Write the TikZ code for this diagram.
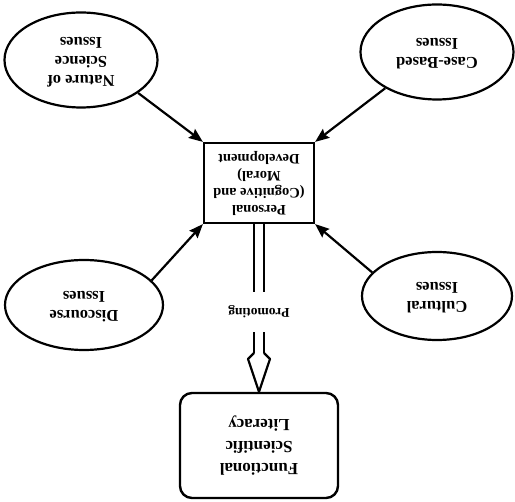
\documentclass[tikz,border=0pt]{standalone}
\usepackage{fontspec}
\setmainfont{Liberation Serif}
\usepackage{graphicx}
\usetikzlibrary{shapes.geometric}
\usetikzlibrary{arrows.meta}
\usetikzlibrary{calc}

% the whole scan is upside down, so every text is turned over
\newcommand{\upside}[1]{\rotatebox{180}{\begin{tabular}{@{}c@{}}#1\end{tabular}}}

\begin{document}
\begin{tikzpicture}[x=1pt,y=-1pt,
    issue/.style={draw,ellipse,line width=2.2pt,inner sep=0pt,
      font=\fontsize{16.5}{19}\selectfont\bfseries},
    devbox/.style={draw,rectangle,line width=2.2pt,inner sep=0pt,
      minimum width=110pt,minimum height=80pt,
      font=\fontsize{14.5}{17}\selectfont\bfseries},
    litbox/.style={draw,rectangle,rounded corners=12pt,line width=2.4pt,inner sep=0pt,
      minimum width=158pt,minimum height=105pt,
      font=\fontsize{17}{22}\selectfont\bfseries},
    link/.style={line width=2.2pt,-{Stealth[length=14pt,width=11pt,inset=2pt]}},
    promote/.style={double,double distance=7.5pt,line width=2.2pt}
  ]
  \useasboundingbox (0,0) rectangle (515,502);

  \node[issue,minimum width=153pt,minimum height=95pt] (nos) at (81,60) {\upside{Nature of\\Science\\Issues}};
  \node[issue,minimum width=153pt,minimum height=95pt] (cbi) at (437,52) {\upside{Case-Based\\Issues}};
  \node[issue,minimum width=158pt,minimum height=90pt] (dis) at (84,305) {\upside{Discourse\\Issues}};
  \node[issue,minimum width=150pt,minimum height=88pt] (cul) at (437,296) {\upside{Cultural\\Issues}};

  \node[devbox] (pers) at (259,183) {\upside{Personal\\(Cognitive and\\Moral)\\Development}};
  \node[litbox] (fsl) at (259,445.5) {\upside{Functional\\Scientific\\Literacy}};

  \draw[link] (nos.-30) -- (pers.north west);
  \draw[link] (cbi.215) -- (pers.north east);
  \draw[link] (dis.20) -- (pers.south west);
  \draw[link] (cul.160) -- (pers.south east);

  % open head of the double arrow
  \coordinate (head) at (259,353);
  \draw[promote] (pers.south) -- node[pos=0.68,fill=white,inner xsep=2pt,inner ysep=12pt,
    font=\fontsize{13.5}{16}\selectfont\bfseries] (prom) {\upside{Promoting}} (head);
  \draw[line width=2.2pt,line join=round] ($(head)+(-5,0)$) -- ($(head)+(-11,6)$) -- (fsl.north)
    -- ($(head)+(11,6)$) -- ($(head)+(5,0)$);
\end{tikzpicture}
\end{document}
